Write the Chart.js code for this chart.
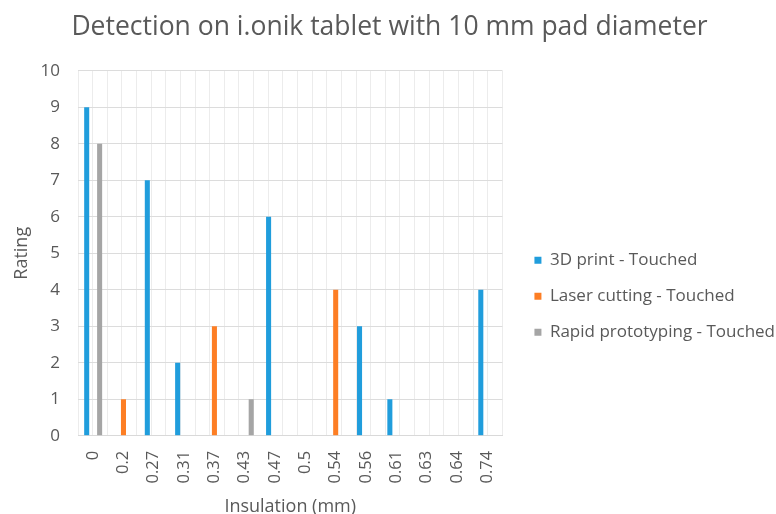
<!DOCTYPE html>
<html>
<head>
<meta charset="utf-8">
<script src="https://cdn.jsdelivr.net/npm/chart.js@4.4.0/dist/chart.umd.min.js"></script>
<style>
  html, body { margin: 0; padding: 0; background: #fff; }
  #wrap { width: 776px; height: 514px; }
</style>
</head>
<body>
<div id="wrap"><canvas id="chart1"></canvas></div>
<script>
// values
const insulation = ['0', '0.2', '0.27', '0.31', '0.37', '0.43', '0.47', '0.5', '0.54', '0.56', '0.61', '0.63', '0.64', '0.74']
const print3d = [9, null, 7, 2, null, null, 6, null, null, 3, 1, null, null, 4]
const laserCutting = [null, 1, null, null, 3, null, null, null, 4, null, null, null, null, null]
const rapidProto = [8, null, null, null, null, 1, null, null, null, null, null, null, null, null]

const textGrey = '#595959'
const fontFam = '"Open Sans", sans-serif'

const chartData = {
    labels: insulation,
    datasets: [
        { label: '3D print - Touched', backgroundColor: '#209ddc', data: print3d, xAxisID: 'x', yAxisID: 'y' },
        { label: 'Laser cutting - Touched', backgroundColor: '#fd7e24', data: laserCutting, xAxisID: 'x', yAxisID: 'y' },
        { label: 'Rapid prototyping - Touched', backgroundColor: '#a5a5a5', data: rapidProto, xAxisID: 'x', yAxisID: 'y' },
    ],
}

const chartOptions = {
    responsive: true,
    maintainAspectRatio: false,
    animation: false,
    datasets: {
        bar: { categoryPercentage: 0.64, barPercentage: 0.78 },
    },
    layout: { padding: { left: -6, right: -9, top: 6, bottom: -4 } },
    scales: {
        x: {
            offset: true,
            grid: { display: false },
            border: { color: '#d9d9d9' },
            ticks: { color: textGrey, font: { family: fontFam, size: 16.5 }, maxRotation: 90, minRotation: 90, padding: 7 },
            title: { display: true, text: 'Insulation (mm)', color: textGrey, font: { family: fontFam, size: 18 }, padding: { top: 6, bottom: 0 } },
        },
        // extra axis only used for the thin vertical grid lines
        xg: {
            type: 'linear',
            position: 'bottom',
            min: 0,
            max: 28,
            ticks: { display: false, stepSize: 1 },
            grid: { color: '#ececec', drawTicks: false },
            border: { display: false },
        },
        y: {
            min: 0,
            max: 10,
            ticks: { stepSize: 1, color: textGrey, font: { family: fontFam, size: 17 }, padding: 18 },
            grid: { color: '#dcdcdc', drawTicks: false },
            border: { display: false },
            title: { display: true, text: 'Rating', color: textGrey, font: { family: fontFam, size: 18 }, padding: { top: 17, bottom: 4 } },
            afterFit: (scale) => { scale.width = 84 },
        },
        // empty right axis: leaves the gap between the plot and the legend
        yr: {
            position: 'right',
            grid: { display: false },
            border: { display: false },
            ticks: { display: false },
            afterFit: (scale) => { scale.width = 13 },
        },
    },
    plugins: {
        title: {
            display: true,
            text: 'Detection on i.onik tablet with 10 mm pad diameter',
            color: textGrey,
            font: { family: fontFam, size: 26.5, weight: 'normal' },
            padding: { top: 6, bottom: 27 },
        },
        legend: {
            position: 'right',
            maxWidth: 320,
            title: { display: true, text: ' ', padding: 27 },
            labels: { boxWidth: 7, boxHeight: 7, color: textGrey, font: { family: fontFam, size: 17 }, padding: 19 },
        },
        tooltip: { enabled: false },
    },
}

new Chart(document.getElementById('chart1'), {
    type: 'bar',
    data: chartData,
    options: chartOptions,
})
</script>
</body>
</html>
